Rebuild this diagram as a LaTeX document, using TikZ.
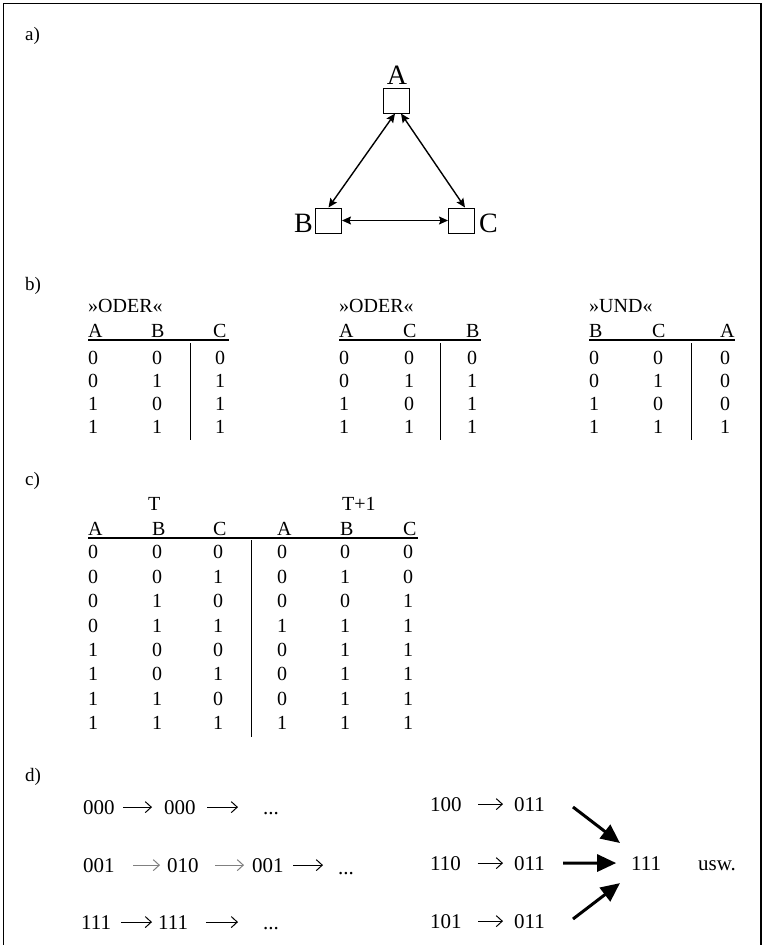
\documentclass[tikz,border=0pt]{standalone}
\usepackage{fontspec}
\setmainfont{Liberation Serif}
\usetikzlibrary{arrows.meta}

\begin{document}
\begin{tikzpicture}[x=1pt,y=-1pt,
  every node/.style={inner sep=0pt},
  tag/.style={anchor=base west,font=\fontsize{19}{22}\selectfont},
  cell/.style={anchor=base west,font=\fontsize{20}{24}\selectfont},
  seq/.style={anchor=base west,font=\fontsize{21}{25}\selectfont},
  unit/.style={draw,line width=1pt,minimum width=26pt,minimum height=25pt},
  unitname/.style={font=\fontsize{28}{32}\selectfont},
  link/.style={line width=1.4pt,
    {Stealth[length=9pt,width=8pt,inset=1.5pt]}-{Stealth[length=9pt,width=8pt,inset=1.5pt]}},
  headrule/.style={line width=2pt},
  colrule/.style={line width=1pt},
  trans/.style={line width=1pt,-{Straight Barb[length=6pt,width=11pt]}},
  fade/.style={draw=black!50},
  gap/.style 2 args={shorten <=#1pt,shorten >=#2pt},
  fat/.style={line width=3pt,-{Triangle[length=19pt,width=17pt]}}
]
\fill[white] (0,0) rectangle (763,945);
\useasboundingbox (0,0) rectangle (763,945);
\draw[line width=1.2pt] (3.5,945) -- (3.5,3.5) -- (761,3.5) -- (761,945);

% ---------- a) three coupled units ----------
\node[tag] (la) at (25,40) {a)};
\node[unit] (A) at (396,100.5) {};
\node[unit] (B) at (328.5,220.5) {};
\node[unit] (C) at (461.5,220.5) {};
\node[unitname,anchor=base] (nA) at (397,84) {A};
\node[unitname,anchor=base east] (nB) at (313,232) {B};
\node[unitname,anchor=base west] (nC) at (479,232) {C};
\draw[link] ([shift={(-1,0)}]A.south) -- (B.north);
\draw[link] ([shift={(5,0)}]A.south) -- ([shift={(3.5,0)}]C.north);
\draw[link] (B.east) -- (C.west);

% ---------- b) gate tables ----------
\node[tag] (lb) at (25,290) {b)};

% first table: A, B -> C (ODER)
\node[cell] (g1t) at (88,312) {»ODER«};
\node[cell] (g1a) at (88,337) {A};
\node[cell] (g1b) at (151,337) {B};
\node[cell] (g1c) at (213,337) {C};
\draw[headrule] (88,339.5) -- (228.5,339.5);
\draw[colrule] (190,343) -- (190,440);
\foreach \ca/\cb/\cc [count=\k] in {0/0/0,0/1/1,1/0/1,1/1/1} {
  \pgfmathsetmacro\yb{364+23.33*(\k-1)}
  \node[cell] (g1-\k-1) at (88,\yb) {\ca};
  \node[cell] (g1-\k-2) at (152,\yb) {\cb};
  \node[cell] (g1-\k-3) at (215,\yb) {\cc};
}

% second table: A, C -> B (ODER)
\node[cell] (g2t) at (339,312) {»ODER«};
\node[cell] (g2a) at (339,337) {A};
\node[cell] (g2b) at (403,337) {C};
\node[cell] (g2c) at (466,337) {B};
\draw[headrule] (339,339.5) -- (481,339.5);
\draw[colrule] (440,343) -- (440,440);
\foreach \ca/\cb/\cc [count=\k] in {0/0/0,0/1/1,1/0/1,1/1/1} {
  \pgfmathsetmacro\yb{364+23.33*(\k-1)}
  \node[cell] (g2-\k-1) at (339,\yb) {\ca};
  \node[cell] (g2-\k-2) at (404,\yb) {\cb};
  \node[cell] (g2-\k-3) at (467,\yb) {\cc};
}

% third table: B, C -> A (UND)
\node[cell] (g3t) at (589,312) {»UND«};
\node[cell] (g3a) at (589,337) {B};
\node[cell] (g3b) at (652,337) {C};
\node[cell] (g3c) at (720,337) {A};
\draw[headrule] (589,339.5) -- (735,339.5);
\draw[colrule] (691,343) -- (691,440);
\foreach \ca/\cb/\cc [count=\k] in {0/0/0,0/1/0,1/0/0,1/1/1} {
  \pgfmathsetmacro\yb{364+23.33*(\k-1)}
  \node[cell] (g3-\k-1) at (589,\yb) {\ca};
  \node[cell] (g3-\k-2) at (653,\yb) {\cb};
  \node[cell] (g3-\k-3) at (720,\yb) {\cc};
}

% ---------- c) state transition table ----------
\node[tag] (lc) at (25,485) {c)};
\node[cell] (tT) at (148,510) {T};
\node[cell] (tT1) at (342,510) {T+1};
\foreach \h/\x [count=\j] in {A/88,B/152,C/213,A/277,B/340,C/403}
  \node[cell] (th\j) at (\x,535) {\h};
\draw[headrule] (88,537.5) -- (418,537.5);
\draw[colrule] (251,540) -- (251,737);
\foreach \sa/\sb/\sc/\na/\nb/\nc [count=\k] in
  {0/0/0/0/0/0, 0/0/1/0/1/0, 0/1/0/0/0/1, 0/1/1/1/1/1,
   1/0/0/0/1/1, 1/0/1/0/1/1, 1/1/0/0/1/1, 1/1/1/1/1/1} {
  \pgfmathsetmacro\yb{558.75+24.43*(\k-1)}
  \node[cell] (s\k-1) at (88,\yb) {\sa};
  \node[cell] (s\k-2) at (152,\yb) {\sb};
  \node[cell] (s\k-3) at (213,\yb) {\sc};
  \node[cell] (s\k-4) at (277,\yb) {\na};
  \node[cell] (s\k-5) at (340,\yb) {\nb};
  \node[cell] (s\k-6) at (403,\yb) {\nc};
}

% ---------- d) trajectories ----------
\node[tag] (ld) at (25,781) {d)};

% fixed point 000
\node[seq] (p11) at (83,814) {000};
\node[seq] (p12) at (164,814) {000};
\node[seq] (p13) at (263,814) {...};
\draw[trans,gap={8.5}{12}] (p11.east) -- (p12.west);
\draw[trans,gap={11.5}{25}] (p12.east) -- (p12.east -| p13.west);

% cycle 001 <-> 010
\node[seq] (p21) at (83,872) {001};
\node[seq] (p22) at (167,872) {010};
\node[seq] (p23) at (252,872) {001};
\node[seq] (p24) at (338,874) {...};
\draw[trans,fade,gap={18.5}{7}] (p21.east) -- (p22.west);
\draw[trans,fade,gap={16.5}{8}] (p22.east) -- (p23.west);
\draw[trans,gap={9.5}{15}] (p23.east) -- (p23.east -| p24.west);

% fixed point 111
\node[seq] (p31) at (81,929) {111};
\node[seq] (p32) at (158,929) {111};
\node[seq] (p33) at (263,929) {...};
\draw[trans,gap={9.5}{6}] (p31.east) -- (p32.west);
\draw[trans,gap={17.5}{25}] (p32.east) -- (p32.east -| p33.west);

% transients into 111
\node[seq] (q11) at (430,811) {100};
\node[seq] (q12) at (514,811) {011};
\node[seq] (q21) at (430,870) {110};
\node[seq] (q22) at (514,870) {011};
\node[seq] (q31) at (430,928) {101};
\node[seq] (q32) at (514,928) {011};
\draw[trans,gap={16.5}{11}] (q11.east) -- (q12.west);
\draw[trans,gap={16.5}{11}] (q21.east) -- (q22.west);
\draw[trans,gap={16.5}{11}] (q31.east) -- (q32.west);

\node[seq] (fix) at (631,870) {111};
\node[seq] (usw) at (698,870) {usw.};
\coordinate (f1) at (573,807);
\coordinate (f2) at (563,863);
\coordinate (f3) at (573,919);
\draw[fat,shorten >=33pt] (f1) -- (fix.center);
\draw[fat,shorten >=30pt] (f2) -- (fix.center);
\draw[fat,shorten >=33pt] (f3) -- (fix.center);
\end{tikzpicture}
\end{document}
